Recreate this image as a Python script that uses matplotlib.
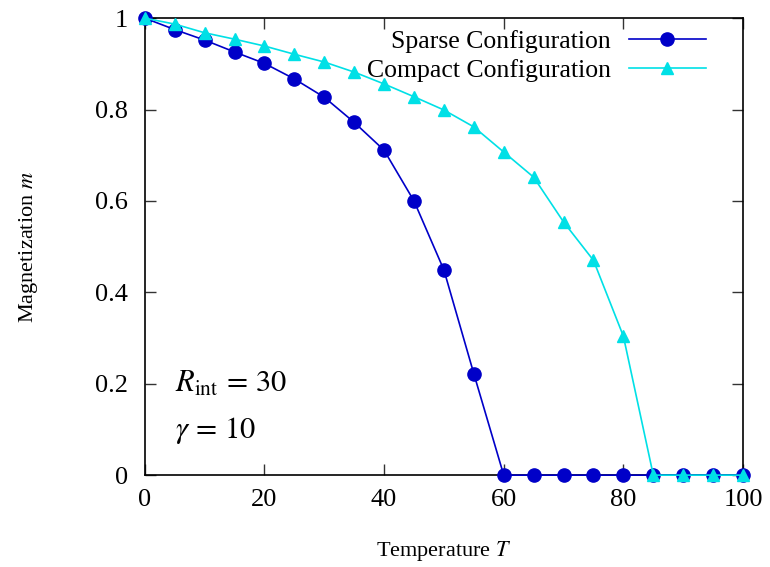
import numpy as np
import matplotlib.pyplot as plt

plt.rcParams['font.family'] = ['Liberation Serif', 'DejaVu Serif']
plt.rcParams['mathtext.fontset'] = 'stix'

# Temperature grid and magnetization values
temperature = [0, 5, 10, 15, 20, 25, 30, 35, 40, 45, 50, 55, 60, 65, 70, 75, 80, 85, 90, 95, 100]
m_sparse = [1.0, 0.975, 0.952, 0.926, 0.901, 0.867, 0.827, 0.772, 0.711, 0.600, 0.449, 0.222,
            0.0, 0.0, 0.0, 0.0, 0.0, 0.0, 0.0, 0.0, 0.0]
m_compact = [1.0, 0.987, 0.968, 0.954, 0.939, 0.921, 0.904, 0.882, 0.856, 0.828, 0.799, 0.762,
             0.707, 0.652, 0.554, 0.470, 0.304, 0.0, 0.0, 0.0, 0.0]

xticks = [0, 20, 40, 60, 80, 100]
yticks = [0, 0.2, 0.4, 0.6, 0.8, 1]
ytick_labels = ['0', '0.2', '0.4', '0.6', '0.8', '1']

fig = plt.figure(figsize=(7.7, 5.67), dpi=100)
ax = fig.add_axes([0.188, 0.162, 0.777, 0.806])

ax.plot(temperature, m_sparse, '-o', color='#0000c8', lw=1.2, ms=9.5,
        label='Sparse Configuration', clip_on=False, zorder=3)
ax.plot(temperature, m_compact, '-^', color='#00e0e6', lw=1.2, ms=9,
        label='Compact Configuration', clip_on=False, zorder=4)

ax.set_xlim(0, 100)
ax.set_ylim(0, 1)
ax.set_xticks(xticks)
ax.set_yticks(yticks)
ax.set_yticklabels(ytick_labels)
ax.tick_params(direction='in', length=8, width=1, top=True, right=True,
               labelsize=19, color='#333333')
ax.tick_params(axis='x', pad=10)
ax.tick_params(axis='y', pad=12)
for s in ax.spines.values():
    s.set_linewidth(1.2)

ax.set_xlabel('Temperature $T$', fontsize=16)
ax.set_ylabel('Magnetization $m$', fontsize=16)
ax.xaxis.set_label_coords(0.5, -0.14)
ax.yaxis.set_label_coords(-0.175, 0.5)

ax.text(0.05, 0.20, r'$R_{\mathrm{int}}\,=\,30$', transform=ax.transAxes, fontsize=22,
        va='center')
ax.text(0.05, 0.097, r'$\gamma\,=\,10$', transform=ax.transAxes, fontsize=22,
        va='center')

leg = ax.legend(loc='upper right', bbox_to_anchor=(0.938, 0.973), frameon=False,
                markerfirst=False, fontsize=18.5, handlelength=3.0, labelspacing=0.22,
                borderaxespad=0, borderpad=0, handletextpad=0.7)
for t in leg.get_texts():
    t.set_ha('right')
leg._legend_box.align = 'right'

fig.savefig('out.png', dpi=100)
